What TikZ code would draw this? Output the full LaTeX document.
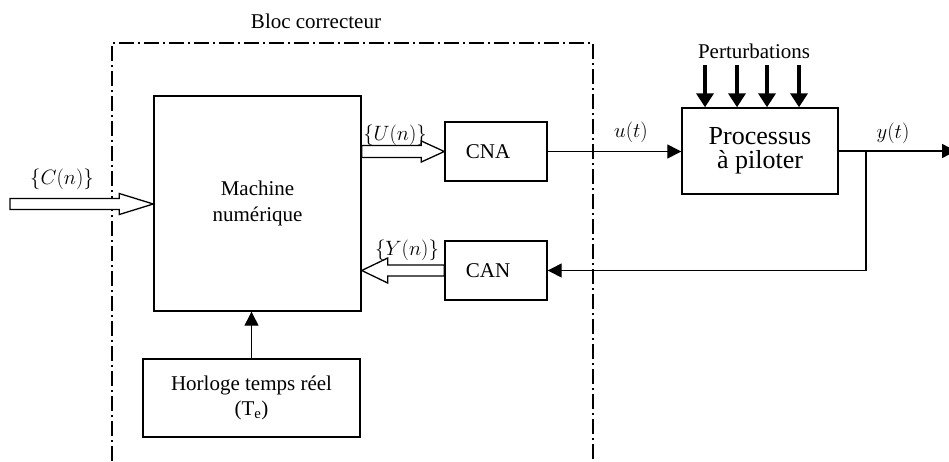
\documentclass[tikz,border=0pt]{standalone}
\usepackage{fontspec}
\setmainfont{Liberation Serif}
\usetikzlibrary{arrows.meta,calc}
\newcommand\hollowarr[5]{%
  \draw[hollow] let \p1=(#1), \p2=(#2), \n1={sign(\x2-\x1)} in
  (\x1,\y1+#4) -- (\x2-\n1*#3,\y1+#4) -- (\x2-\n1*#3,\y1+#5) -- (\x2,\y1)
  -- (\x2-\n1*#3,\y1-#5) -- (\x2-\n1*#3,\y1-#4) -- (\x1,\y1-#4) -- cycle;}
\begin{document}
\begin{tikzpicture}[x=1pt,y=-1pt,
  every node/.style={font=\rmfamily\fontsize{21}{25.5}\selectfont, inner sep=0pt},
  blk/.style={draw, line width=1.4pt, align=center},
  mlabel/.style={font=\rmfamily\fontsize{22}{26}\selectfont},
  hollow/.style={draw, line width=1.3pt, fill=white, line join=miter},
  arr/.style={draw, line width=1.3pt, -{Triangle[length=14pt,width=14pt]}},
  pert/.style={draw, line width=4.5pt, -{Triangle[length=14pt,width=17pt]}},
  frame/.style={draw, line width=1.4pt, dash pattern=on 15pt off 4pt on 2pt off 4pt}]
\useasboundingbox (0,0) rectangle (949,461);
% dash-dot frame
\draw[frame] (112,461) -- (112,43) -- (593,43) -- (593,461);
\node (bloc) at (316,21) {Bloc correcteur};
% blocks
\node[blk, minimum width=207pt, minimum height=215pt] (mach) at (257.5,203.5) {Machine\\num\'erique};
\node[blk, minimum width=102pt, minimum height=59pt] (cna) at (496,151.5) {CNA\kern16pt};
\node[blk, minimum width=102pt, minimum height=59pt] (can) at (496,270.5) {CAN\kern16pt};
\node[blk, minimum width=156pt, minimum height=86pt, font=\rmfamily\fontsize{26}{24}\selectfont] (proc) at (760,151) {Processus\\\`a piloter};
\node[blk, minimum width=217pt, minimum height=78pt] (horl) at (251.5,398) {Horloge temps r\'eel\\(T\textsubscript{e})};
% labels
\node[mlabel] (lc) at (62,179) {$\{C(n)\}$};
\node[mlabel] (lu) at (395,135) {$\{U(n)\}$};
\node[mlabel] (ly) at (407,250) {$\{Y(n)\}$};
\node[mlabel] (lut) at (631,132) {$u(t)$};
\node[mlabel] (lyt) at (893,133) {$y(t)$};
\node (lp) at (754,51) {Perturbations};
% hollow arrows
\coordinate (cin) at (10,204);
\hollowarr{cin}{mach.west |- cin}{34pt}{5.5pt}{10.5pt}
\hollowarr{mach.east |- cna.west}{cna.west}{23pt}{6pt}{10.5pt}
\hollowarr{can.west}{mach.east |- can.west}{26pt}{5.5pt}{12.5pt}
% connectors
\draw[arr] (cna.east) -- (proc.west |- cna.east);
\coordinate (br) at (866,151);
\coordinate (yout) at (956,151);
\draw[line width=1.3pt] (proc.east |- br) -- (br);
\draw[arr] (br) -- (yout);
\draw[arr] (br) |- (can.east);
\draw[arr] (horl.north) -- (mach.south -| horl.north);
\foreach \x in {705,737,767,799} {
  \coordinate (p\x) at (\x,65);
  \draw[pert] (p\x) -- (p\x |- proc.north);
}
\end{tikzpicture}
\end{document}
